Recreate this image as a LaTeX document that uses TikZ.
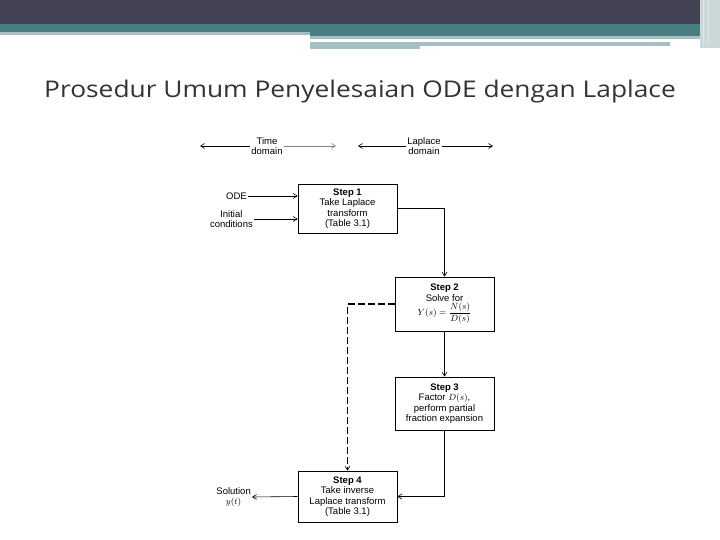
\documentclass[tikz,border=0pt]{standalone}
\usepackage{amsmath}
\usepackage{fontspec}
\setmainfont{Liberation Sans}
\newfontfamily\titlefont{Open Sans}
\usetikzlibrary{arrows.meta}
\definecolor{hdark}{RGB}{66,66,84}
\definecolor{hteal}{RGB}{70,126,130}
\definecolor{hlight}{RGB}{166,191,194}
\begin{document}
\begin{tikzpicture}[x=1pt,y=-1pt,
  stepbox/.style={draw,thick,minimum width=99pt,align=center,font=\fontsize{9.5}{10.5}\selectfont,inner sep=1pt},
  lbl/.style={align=center,font=\fontsize{9.5}{10}\selectfont,inner sep=1pt},
  arr/.style={-{Straight Barb[length=4pt,width=5pt]},semithick}]
\useasboundingbox (0,0) rectangle (720,540);
\fill[white] (0,0) rectangle (720,540);
\fill[hdark] (0,0) rectangle (720,24);
\fill[hteal] (0,24) rectangle (720,32);
\fill[hlight] (0,32) rectangle (310,35.5);
\fill[hteal] (310,32) rectangle (700,36);
\fill[hlight] (310,36) rectangle (700,39);
\fill[hlight] (310,42) rectangle (670,46);
\fill[hlight] (310,46) rectangle (420,49);
\fill[hlight!60] (700,0) rectangle (720,48);
\draw[white!80!gray,line width=0.6pt] (703,0)--(703,46) (708,0)--(708,46);
\node[anchor=west,text=black!80,inner sep=0] (title) at (44,92) {\titlefont\fontsize{23}{26}\selectfont\scalebox{1.145}[1]{Prosedur Umum Penyelesaian ODE dengan Laplace}};

\node[lbl] (td) at (267,146) {Time\\domain};
\coordinate (td1) at (200,146); \coordinate (td2) at (336,146);
\draw[arr] (td.west) -- (td1);
\draw[arr,gray] (td.east) -- (td2);
\node[lbl] (ld) at (424,146) {Laplace\\domain};
\coordinate (ld1) at (358,146); \coordinate (ld2) at (493,146);
\draw[arr] (ld.west) -- (ld1);
\draw[arr] (ld.east) -- (ld2);

\node[stepbox,minimum height=49pt] (s1) at (347.5,208.5) {\textbf{Step 1}\\Take Laplace\\transform\\(Table 3.1)};
\node[stepbox,minimum height=54pt] (s2) at (444.5,304) {\textbf{Step 2}\\Solve for\\[1pt] \raisebox{2pt}{$Y(s)=\dfrac{N(s)}{D(s)}$}};
\node[stepbox,minimum height=53pt] (s3) at (444.5,403.5) {\textbf{Step 3}\\Factor $D(s)$,\\perform partial\\fraction expansion};
\node[stepbox,minimum height=51pt] (s4) at (347.5,496.5) {\textbf{Step 4}\\Take inverse\\Laplace transform\\(Table 3.1)};

\node[lbl,anchor=east] (ode) at (248,196) {ODE};
\node[lbl,anchor=east] (ic) at (254,219) {Initial\\conditions};
\draw[arr] (ode.east) -- (ode.east -| s1.west);
\draw[arr] (ic.east) -- (ic.east -| s1.west);
\node[lbl,anchor=east] (sol) at (252,497) {Solution\\$y(t)$};

\draw[arr] (s1.east) -| (s2.north);
\draw[arr] (s2.south) -- (s3.north);
\draw[arr] (s3.south) |- (s4.east);
\draw[arr,line width=1.8pt,dash pattern=on 7pt off 3pt,-{Straight Barb[length=4pt,width=5pt,line width=0.6pt]}] (s2.west) -| (s4.north);
\draw[arr] (s4.west) -- (sol.east);
\end{tikzpicture}
\end{document}
